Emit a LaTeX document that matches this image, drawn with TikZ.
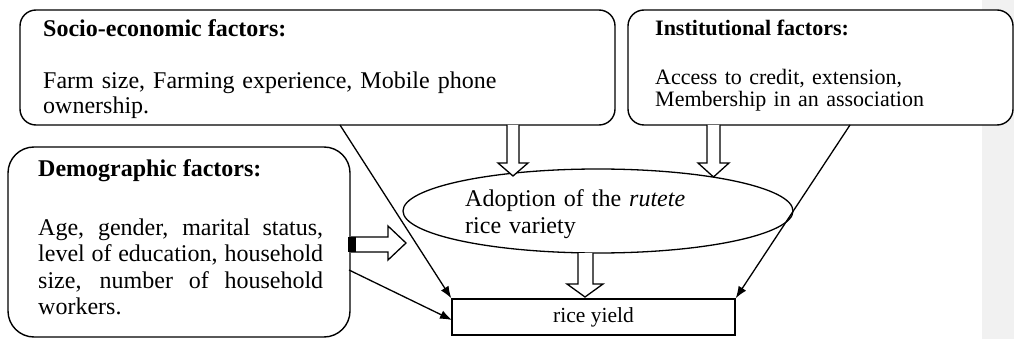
\documentclass[tikz,border=0pt]{standalone}
\usepackage{fontspec}
\setmainfont{Liberation Serif}
\usetikzlibrary{arrows.meta,shapes.geometric}
\begin{document}
\begin{tikzpicture}[x=1pt,y=-1pt,
  box/.style={draw,line width=1.4pt,rounded corners=16pt,fill=white},
  fat/.style={draw,line width=1.3pt,fill=white,line join=miter},
  link/.style={line width=1.3pt,-{Latex[length=12pt,width=9pt]}},
  txt/.style={inner sep=0pt,anchor=base west},
  big/.style={font=\fontsize{24}{25}\selectfont},
  mid/.style={font=\fontsize{22}{22}\selectfont}]
\useasboundingbox (0,0) rectangle (1014,339);
\fill[gray!11] (982,0) rectangle (1014,339);
% boxes
\node[box,minimum width=595pt,minimum height=115pt] (socio) at (317.5,67.5) {};
\node[box,minimum width=385pt,minimum height=115pt] (inst) at (820.5,67.5) {};
\node[box,rounded corners=26pt,minimum width=342pt,minimum height=190pt] (demo) at (179,242) {};
\node[draw,ellipse,line width=1.3pt,inner sep=0pt,minimum width=390pt,minimum height=84pt] (adopt) at (598,211) {};
\node[draw,line width=1.4pt,minimum width=283pt,minimum height=36pt,inner sep=0pt,font=\fontsize{21.5}{22}\selectfont] (rice) at (593.5,317) {rice yield};
% texts
\node[txt,big] (sociot) at (43,37) {\bfseries Socio-economic factors:};
\node[txt,big,text width=540pt,align=left] (sociob) at (43,89) {Farm size, Farming experience, Mobile phone\\ownership.};
\node[txt,mid] (instt) at (655,36) {\bfseries Institutional factors:};
\node[txt,mid,text width=340pt,align=left] (instb) at (655,85) {Access to credit, extension,\\Membership in an association};
\node[txt,big] (demot) at (38,177) {\bfseries Demographic factors:};
\node[txt,big,font=\fontsize{24}{26.5}\selectfont,text width=285pt,align=justify] (demob) at (38,235) {Age, gender, marital status, level of education, household size, number of household workers.};
\node[txt,big,font=\fontsize{24}{27}\selectfont,text width=300pt,align=left] (adoptt) at (465,207) {Adoption of the \textit{rutete}\\rice variety};
% block arrows
\draw[fat] (507,125) -- (507,163) -- (498,163) -- (513,176) -- (528,163) -- (519,163) -- (519,125);
\draw[fat] (707,125) -- (707,163) -- (698,163) -- (713.5,177) -- (729,163) -- (720,163) -- (720,125);
\draw[fat] (578,253) -- (578,284) -- (567,284) -- (585,297) -- (603,284) -- (593,284) -- (593,253);
\draw[fat] (351,237) -- (388,237) -- (388,226) -- (406,243) -- (388,260) -- (388,252) -- (351,252);
\fill (348,237) rectangle (356,252);
% line arrows
\coordinate (s1) at (340,125);
\coordinate (d1) at (349,270);
\coordinate (r2) at (452,320);
\coordinate (i1) at (850,125);
\draw[link] (s1) -- (rice.north west);
\draw[link] (d1) -- (r2);
\draw[link] (i1) -- (rice.north east);
\end{tikzpicture}
\end{document}
